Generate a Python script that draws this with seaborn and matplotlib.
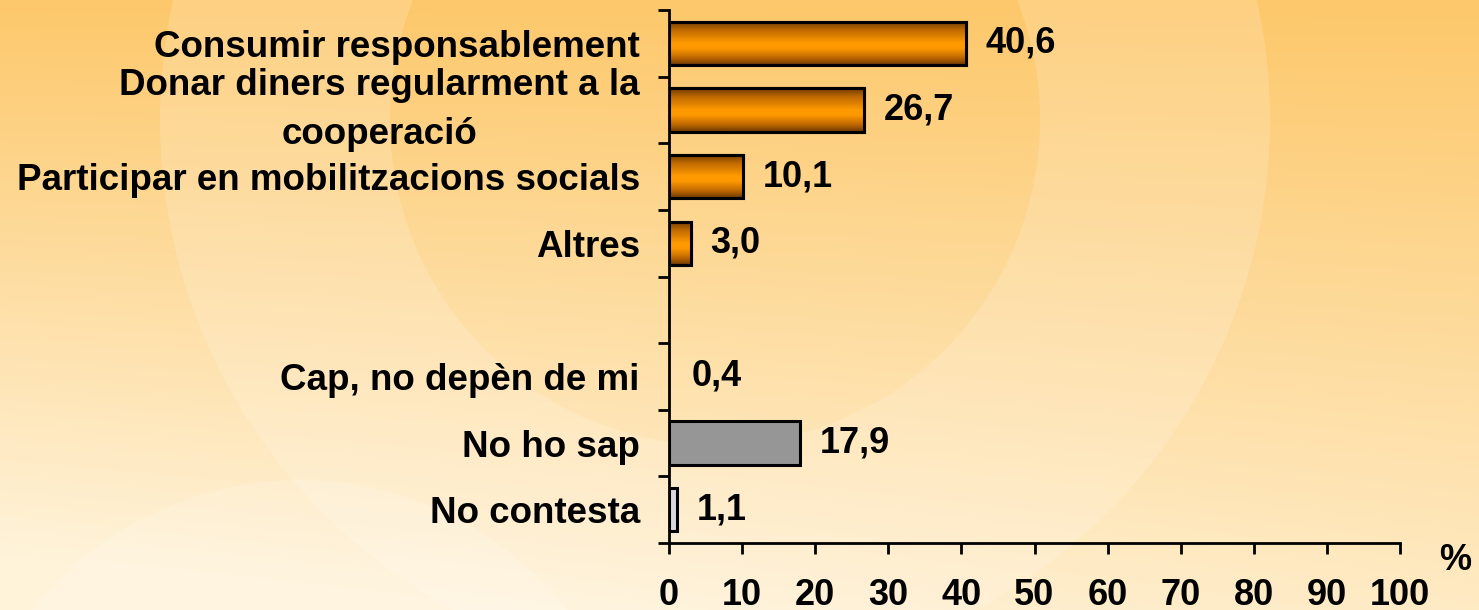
"""
Horizontal bar chart: accions per a la cooperació (%).
"""
import matplotlib
matplotlib.use('Agg')
import matplotlib.pyplot as plt
from matplotlib.colors import LinearSegmentedColormap
from matplotlib.patches import Circle, Wedge
import seaborn as sns
import numpy as np
import pandas as pd

# data
categories = ['Consumir responsablement',
              'Donar diners regularment a la\ncooperació',
              'Participar en mobilitzacions socials',
              'Altres',
              ' ',
              'Cap, no depèn de mi',
              'No ho sap',
              'No contesta']
values = [40.6, 26.7, 10.1, 3.0, np.nan, 0.4, 17.9, 1.1]
value_labels = ['40,6', '26,7', '10,1', '3,0', '', '0,4', '17,9', '1,1']
bar_colors = ['#ff9900', '#ff9900', '#ff9900', '#ff9900', '#ffffff',
              '#e6e6e6', '#969696', '#d9d9d9']
gradient_bars = [True, True, True, True, False, False, False, False]
x_ticks = [0, 10, 20, 30, 40, 50, 60, 70, 80, 90, 100]

df = pd.DataFrame({'label': categories, 'value': values})

sns.set_style('white')
plt.rcParams['font.family'] = ['Liberation Sans', 'DejaVu Sans']
plt.rcParams['font.weight'] = 'bold'
plt.rcParams['text.color'] = 'black'
plt.rcParams['xtick.color'] = 'black'
plt.rcParams['ytick.color'] = 'black'

FS = 26

fig = plt.figure(figsize=(14.79, 6.10), dpi=100)

# background: warm gradient with a faint big "C"
bg = fig.add_axes([0, 0, 1, 1])
bg.set_xlim(0, 1479)
bg.set_ylim(610, 0)
bg.axis('off')
yy, xx = np.mgrid[0:610, 0:1479]
t = np.clip(yy / 610 * 0.8 + (1 - xx / 1479) * 0.3 * (yy / 610), 0, 1)
top = np.array([253, 200, 107]) / 255
bottom = np.array([255, 243, 218]) / 255
img = top[None, None, :] * (1 - t[..., None]) + bottom[None, None, :] * t[..., None]
bg.imshow(img, extent=[0, 1479, 610, 0], aspect='auto', zorder=0)
bg.add_patch(Wedge((715, 120), 555, 0, 360, width=230, facecolor='white',
                   alpha=0.16, edgecolor='none', zorder=1))
bg.add_patch(Circle((300, 820), 340, facecolor='white', alpha=0.16,
                    edgecolor='none', zorder=1))

ax = fig.add_axes([669 / 1479, 67 / 610, 731 / 1479, 533 / 610])
ax.patch.set_alpha(0)

sns.barplot(data=df, y='label', x='value', hue='label', order=categories,
            palette=bar_colors, legend=False, width=0.65,
            edgecolor='black', linewidth=2.2, ax=ax, zorder=3)

# orange bars get a vertical metallic gradient
grad_cmap = LinearSegmentedColormap.from_list(
    'orange', [(0, '#6e3a00'), (0.2, '#c06a00'), (0.5, '#ff9a00'),
               (0.62, '#ff9900'), (0.85, '#b86400'), (1, '#6a3800')])
for patch in list(ax.patches):
    x0, y0 = patch.get_x(), patch.get_y()
    w, h = patch.get_width(), patch.get_height()
    if not np.isfinite(w) or w == 0:
        continue
    i = int(round(y0 + h / 2))  # category index of this bar
    if values[i] < 1:
        # too small to show in the original
        patch.set_visible(False)
        continue
    if not gradient_bars[i]:
        continue
    g = np.linspace(0, 1, 100)[:, None]
    im = ax.imshow(g, cmap=grad_cmap, extent=[x0, x0 + w, y0 + h, y0],
                   aspect='auto', zorder=3.5, interpolation='bicubic')
    im.set_clip_path(patch)
    ax.add_patch(plt.Rectangle((x0, y0), w, h, fill=False,
                               edgecolor='black', linewidth=2.2, zorder=4))

# value labels
for i, (v, txt) in enumerate(zip(values, value_labels)):
    if txt:
        ax.annotate(txt, xy=(v, i), xytext=(14, 0), textcoords='offset points',
                    ha='left', va='center', fontsize=FS, fontweight='bold',
                    zorder=5)

ax.set_xlim(0, 100)
ax.set_ylim(len(categories) - 0.5, -0.5)
ax.set_xticks(x_ticks)
ax.set_xticklabels([str(v) for v in x_ticks], fontsize=FS, fontweight='bold')
ax.set_yticks(range(len(categories)))
ax.set_yticklabels(categories, fontsize=26.5, fontweight='bold')
for lab in ax.get_yticklabels():
    if '\n' in lab.get_text():
        lab.set_multialignment('center')
        lab.set_linespacing(1.55)
        lab.set_va('center')
ax.set_yticks(np.arange(-0.5, len(categories), 1), minor=True)
ax.tick_params(axis='y', which='major', length=0, pad=21)
ax.tick_params(axis='y', which='minor', length=8, width=2, direction='out',
               color='black', left=True)
ax.tick_params(axis='x', which='major', length=8, width=2, direction='out',
               color='black', bottom=True, pad=17)
ax.set_xlabel('')
ax.set_ylabel('')

for side in ['top', 'right']:
    ax.spines[side].set_visible(False)
for side in ['left', 'bottom']:
    ax.spines[side].set_color('black')
    ax.spines[side].set_linewidth(2)

ax.text(1.053, 0.0, '%', transform=ax.transAxes, fontsize=FS,
        fontweight='bold', ha='left', va='top')

fig.savefig('out.png', dpi=100)
